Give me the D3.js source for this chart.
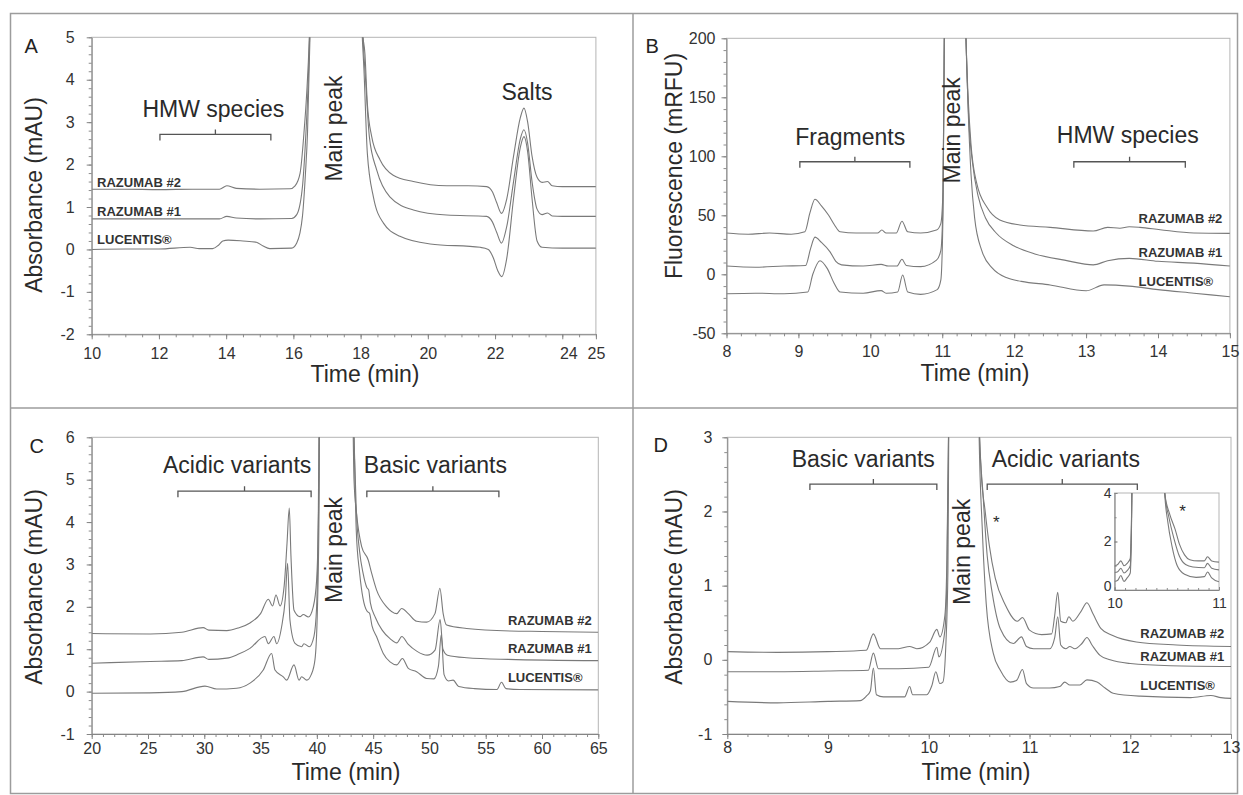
<!DOCTYPE html>
<html lang="en">
<head>
    <meta charset="UTF-8">
    <title>Ranibizumab biosimilar chromatograms</title>
    <script src="https://d3js.org/d3.v7.min.js"></script>
    <style>
        body { margin: 0; background: #fff; }
        svg { display: block; }
        .trace { fill: none; stroke: #7a7a7a; stroke-width: 1.1; }
    </style>
</head>
<body>
<svg id="fig" width="1243" height="795"></svg>
<script>
    const FONT = '"Liberation Sans", Arial, sans-serif';
    const seriesNames = ["RAZUMAB #2", "RAZUMAB #1", "LUCENTIS®"];

    // ---- A: SEC, absorbance (time min, mAU)
    const aTimeTicks = [10, 12, 14, 16, 18, 20, 22, 24, 25];
    const aAbsTicks = [-2, -1, 0, 1, 2, 3, 4, 5];
    const aRaz2 = [[10,1.42],[11,1.42],[12,1.41],[13,1.42],[13.8,1.42],[14.02,1.5],[14.3,1.44],[15,1.42],[15.9,1.43],[16.05,1.5],[16.2,1.8],[16.32,2.8],[16.39,3.6],[16.48,5.2],[16.55,8],
        [17.95,8],[18.05,5.2],[18.13,4.6],[18.2,3.44],[18.33,2.66],[18.58,2.11],[18.97,1.75],[19.57,1.6],[20.56,1.5],[21.2,1.5],[21.75,1.48],[21.92,1.36],[22.05,1.1],[22.19,0.85],[22.35,1.2],[22.55,2.2],[22.75,3.1],[22.86,3.33],[22.97,3.0],[23.1,2.2],[23.25,1.7],[23.4,1.58],[23.56,1.6],[23.7,1.5],[24,1.48],[25,1.48]];
    const aRaz1 = [[10,0.72],[12,0.72],[13.8,0.72],[14.02,0.78],[14.3,0.74],[15,0.72],[15.95,0.73],[16.1,0.82],[16.27,1.48],[16.35,2.4],[16.42,3.52],[16.49,5.2],[16.56,8],
        [17.95,8],[18.06,5.2],[18.16,3.84],[18.26,2.66],[18.48,1.87],[18.87,1.24],[19.57,0.93],[20.56,0.81],[21.75,0.78],[21.92,0.65],[22.05,0.4],[22.19,0.15],[22.35,0.55],[22.55,1.6],[22.75,2.6],[22.86,2.82],[22.97,2.5],[23.1,1.6],[23.25,0.95],[23.4,0.82],[23.56,0.86],[23.7,0.79],[24,0.78],[25,0.78]];
    const aLucentis = [[10,0.0],[11,0.01],[12,0.01],[12.93,0.05],[13.2,0.02],[13.6,0.02],[13.77,0.1],[13.9,0.2],[14.06,0.22],[14.5,0.2],[14.9,0.17],[15.1,0.08],[15.3,0.02],[15.95,0.03],[16.1,0.15],[16.27,0.78],[16.36,1.8],[16.42,2.74],[16.5,5.2],[16.57,8],
        [17.95,8],[18.04,5.2],[18.1,4.23],[18.2,2.27],[18.38,1.24],[18.68,0.62],[19.17,0.31],[20.07,0.13],[21.56,0.05],[21.8,0.0],[21.95,-0.2],[22.08,-0.5],[22.2,-0.64],[22.35,-0.2],[22.55,1.2],[22.75,2.4],[22.86,2.66],[22.97,2.3],[23.1,1.2],[23.25,0.2],[23.4,0.05],[24,0.03],[25,0.03]];

    // ---- B: SEC, fluorescence (time min, mRFU)
    const bTimeTicks = [8, 9, 10, 11, 12, 13, 14, 15];
    const bFluoTicks = [-50, 0, 50, 100, 150, 200];
    const bRaz2 = [[8,35],[8.3,34],[8.6,35],[8.9,34],[9.09,36],[9.16,52],[9.23,63.6],[9.32,58],[9.42,50],[9.5,42],[9.58,36],[9.8,35],[10.1,35],[10.16,37.5],[10.22,35],[10.36,35],[10.44,45],[10.52,36],[10.7,35],[10.92,37.5],[10.98,43],[11.01,70],[11.03,210],[11.04,260],
        [11.31,260],[11.33,200],[11.36,150],[11.4,110],[11.48,77],[11.62,57],[11.8,46],[12.08,41.8],[12.5,39.8],[13.1,36.7],[13.3,39.8],[13.47,39],[13.6,40.3],[13.75,39.8],[14.03,37.8],[14.5,35],[15,34.7]];
    const bRaz1 = [[8,7],[8.4,6],[8.8,7],[9.1,7.5],[9.17,22],[9.23,31.5],[9.32,27],[9.44,19],[9.52,11],[9.6,8],[9.9,7],[10.15,8.4],[10.25,7],[10.37,7],[10.44,12.7],[10.5,7.5],[10.7,6.5],[10.92,12],[10.98,20],[11.01,60],[11.03,210],[11.04,260],
        [11.31,260],[11.33,200],[11.37,130],[11.42,95],[11.5,66],[11.6,48],[11.75,35],[12.0,24],[12.3,17],[12.7,12],[13.1,8],[13.3,11.5],[13.6,13.5],[14.0,11],[14.5,9.5],[15,7]];
    const bLucentis = [[8,-16.5],[8.4,-16],[8.8,-16.5],[9.13,-15],[9.2,0],[9.3,11.5],[9.4,5],[9.5,-8],[9.58,-15],[9.9,-16],[10.15,-13.8],[10.22,-16],[10.38,-15],[10.45,-0.6],[10.52,-15],[10.7,-17],[10.93,-13],[10.98,-5],[11.01,50],[11.03,210],[11.04,260],
        [11.31,260],[11.33,200],[11.36,140],[11.4,85],[11.45,48],[11.55,20],[11.7,5],[11.9,-3],[12.1,-6],[12.5,-9],[13.0,-14],[13.25,-9],[13.6,-10],[14,-13],[14.5,-16],[15,-19]];

    // ---- C: CEX, absorbance
    const cTimeTicks = [20, 25, 30, 35, 40, 45, 50, 55, 60, 65];
    const cAbsTicks = [-1, 0, 1, 2, 3, 4, 5, 6];
    const cRaz2 = [[20,1.37],[25.2,1.36],[28,1.4],[29.9,1.51],[30.4,1.45],[32,1.44],[33,1.5],[34.06,1.62],[35.0,1.84],[35.69,2.18],[36.07,2.02],[36.37,2.28],[36.73,2.02],[37.1,2.5],[37.35,3.5],[37.55,4.33],[37.7,3.2],[37.97,1.92],[38.5,1.77],[38.8,1.82],[39.24,1.76],[39.68,2.0],[39.98,2.63],[40.19,5.0],[40.3,8],
        [43.1,8],[43.3,5.0],[43.53,4.2],[43.98,3.42],[44.57,3.1],[44.87,2.79],[45.3,2.4],[46.2,2.0],[47.09,1.84],[47.53,1.96],[48.12,1.84],[48.86,1.66],[49.75,1.64],[50.49,1.84],[50.93,2.44],[51.22,1.84],[51.53,1.57],[53.3,1.49],[57.15,1.43],[60,1.42],[65,1.4]];
    const cRaz1 = [[20,0.67],[25.2,0.71],[28,0.73],[29.9,0.82],[30.4,0.76],[32,0.79],[33,0.88],[34.06,1.02],[35.39,1.3],[35.69,1.13],[36.19,1.3],[36.43,1.13],[36.87,1.53],[37.2,2.2],[37.4,3.03],[37.61,1.69],[38.06,1.14],[38.65,1.06],[38.85,1.13],[39.32,1.06],[39.74,1.3],[39.98,2.0],[40.13,4.2],[40.25,8],
        [43.1,8],[43.3,6],[43.5,4.3],[43.8,3.3],[44.1,2.8],[44.45,2.45],[44.6,2.4],[44.75,2.1],[45.2,1.75],[45.8,1.45],[46.5,1.25],[47.1,1.15],[47.55,1.3],[48.1,1.12],[48.9,0.95],[49.8,0.86],[50.5,0.98],[50.95,1.7],[51.2,1.0],[51.6,0.86],[53.3,0.8],[57,0.76],[65,0.73]];
    const cLucentis = [[20,-0.04],[25.18,-0.03],[28,0.0],[30.06,0.13],[31.1,0.06],[32.87,0.08],[34.06,0.2],[35.24,0.51],[35.98,0.9],[36.28,0.51],[37.02,0.35],[37.32,0.27],[37.97,0.63],[38.42,0.27],[38.65,0.35],[39.1,0.27],[39.5,0.4],[39.83,0.75],[40.04,1.85],[40.19,4.2],[40.28,8],
        [43.1,8],[43.3,6],[43.5,3.8],[43.8,2.8],[44.1,2.2],[44.45,1.9],[44.68,1.85],[44.9,1.55],[45.3,1.3],[45.9,0.9],[46.5,0.7],[47.09,0.63],[47.6,0.78],[48.12,0.55],[48.86,0.47],[49.75,0.31],[50.4,0.3],[50.8,0.6],[51.05,1.34],[51.3,0.4],[51.7,0.25],[52.1,0.27],[52.6,0.12],[54,0.07],[56,0.05],[56.4,0.22],[56.8,0.07],[58,0.05],[65,0.04]];

    // ---- D: charge variants, absorbance
    const dTimeTicks = [8, 9, 10, 11, 12, 13];
    const dAbsTicks = [-1, 0, 1, 2, 3];
    const dRaz2 = [[8,0.11],[8.5,0.1],[9,0.11],[9.38,0.13],[9.45,0.35],[9.52,0.15],[9.7,0.15],[9.81,0.18],[9.88,0.15],[10.01,0.24],[10.08,0.41],[10.11,0.31],[10.16,0.6],[10.18,1.35],[10.2,3.5],[10.21,5],
        [10.48,5],[10.5,3.2],[10.52,2.54],[10.56,2.0],[10.6,1.55],[10.66,1.1],[10.76,0.74],[10.88,0.52],[10.93,0.57],[11.0,0.4],[11.12,0.34],[11.22,0.35],[11.25,0.6],[11.28,0.91],[11.31,0.52],[11.36,0.5],[11.39,0.58],[11.43,0.52],[11.51,0.65],[11.57,0.77],[11.63,0.62],[11.71,0.42],[11.82,0.33],[12.06,0.24],[12.46,0.2],[13,0.18]];
    const dRaz1 = [[8,-0.16],[8.5,-0.16],[9,-0.15],[9.4,-0.14],[9.45,0.09],[9.5,-0.12],[9.7,-0.12],[10.0,-0.1],[10.08,0.17],[10.1,0.04],[10.16,0.4],[10.18,1.1],[10.2,3.5],[10.21,5],
        [10.48,5],[10.5,3.2],[10.54,2.2],[10.58,1.4],[10.63,0.9],[10.71,0.42],[10.84,0.22],[10.92,0.31],[10.97,0.18],[11.04,0.15],[11.2,0.15],[11.25,0.3],[11.28,0.58],[11.31,0.2],[11.36,0.15],[11.4,0.18],[11.45,0.15],[11.52,0.22],[11.57,0.3],[11.62,0.2],[11.7,0.06],[11.8,0.0],[12.0,-0.05],[12.4,-0.08],[13,-0.09]];
    const dLucentis = [[8,-0.56],[8.5,-0.58],[9,-0.56],[9.32,-0.55],[9.38,-0.49],[9.42,-0.42],[9.45,-0.11],[9.48,-0.47],[9.55,-0.5],[9.76,-0.5],[9.81,-0.36],[9.84,-0.47],[9.98,-0.47],[10.03,-0.35],[10.07,-0.16],[10.11,-0.32],[10.14,-0.3],[10.17,0.22],[10.19,1.2],[10.2,3.5],[10.21,5],
        [10.48,5],[10.5,3.0],[10.53,1.8],[10.57,0.76],[10.64,0.09],[10.71,-0.14],[10.81,-0.3],[10.87,-0.28],[10.93,-0.13],[10.97,-0.32],[11.04,-0.38],[11.2,-0.38],[11.3,-0.36],[11.35,-0.3],[11.4,-0.34],[11.5,-0.34],[11.57,-0.27],[11.67,-0.3],[11.75,-0.38],[11.83,-0.45],[12.1,-0.49],[12.6,-0.51],[12.8,-0.48],[12.9,-0.51],[13,-0.52]];

    // inset of D (zoom around main peak)
    const iTimeTicks = [10, 11];
    const iAbsTicks = [0, 2, 4];
    const iRaz2 = [[10,1.0],[10.03,1.05],[10.06,1.2],[10.09,1.0],[10.12,1.1],[10.15,1.3],[10.16,2.5],[10.17,5],[10.47,5],[10.48,4.0],[10.53,3.1],[10.58,2.5],[10.62,1.9],[10.67,1.45],[10.72,1.25],[10.8,1.2],[10.86,1.2],[10.89,1.37],[10.93,1.2],[11,1.15]];
    const iRaz1 = [[10,0.72],[10.03,0.75],[10.06,0.9],[10.09,0.7],[10.12,0.8],[10.15,1.0],[10.16,2.3],[10.17,5],[10.47,5],[10.48,4.0],[10.52,3.0],[10.57,2.1],[10.62,1.4],[10.68,1.05],[10.75,0.95],[10.86,0.92],[10.89,1.1],[10.93,0.9],[11,0.83]];
    const iLucentis = [[10,0.35],[10.03,0.4],[10.06,0.6],[10.09,0.35],[10.12,0.5],[10.15,0.7],[10.16,2.0],[10.17,5],[10.47,5],[10.48,4.0],[10.51,2.8],[10.55,1.8],[10.6,1.0],[10.67,0.65],[10.78,0.52],[10.86,0.55],[10.89,0.74],[10.93,0.5],[11,0.34]];

    const svg = d3.select("#fig").attr("font-family", FONT);

    // outer frame + dividers between the four panels
    svg.append("rect").attr("x", 10.5).attr("y", 13.5).attr("width", 1227).attr("height", 780)
        .attr("fill", "#fff").attr("stroke", "#9c9c9c").attr("stroke-width", 1.5);
    svg.append("line").attr("x1", 633).attr("x2", 633).attr("y1", 13.5).attr("y2", 793.5)
        .attr("stroke", "#9c9c9c").attr("stroke-width", 1.5);
    svg.append("line").attr("x1", 10.5).attr("x2", 1237.5).attr("y1", 408).attr("y2", 408)
        .attr("stroke", "#9c9c9c").attr("stroke-width", 1.5);

    const panels = [
        { id: "A", letter: [24.5, 53], left: 91.7, right: 595.9, top: 37.3, bottom: 334.3,
          xDomain: [10, 25], yDomain: [-2, 5], xTicks: aTimeTicks, yTicks: aAbsTicks, xMinor: 0.5, yMinor: 0.2,
          xPad: 8, yPad: 12, tick: 5, tickFont: 16,
          yTitle: "Absorbance (mAU)", yTitlePos: [42, 195], xTitlePos: [365, 382],
          traces: [aRaz2, aRaz1, aLucentis],
          names: { x: 10.16, ys: [1.48, 0.79, 0.126] },
          notes: [{ text: "HMW species", x: 13.62, y: 3.13 }, { text: "Salts", x: 22.95, y: 3.52 }],
          brackets: [{ from: 12.03, to: 15.33, y: 2.71 }],
          mainPeak: { x: 17.46, y: 1.6 } },
        { id: "B", letter: [645.5, 53], left: 726.5, right: 1229.9, top: 38.3, bottom: 333.3,
          xDomain: [8, 15], yDomain: [-50, 200], xTicks: bTimeTicks, yTicks: bFluoTicks, xMinor: 0.2, yMinor: 10,
          xPad: 7, yPad: 6, tick: 5, tickFont: 16,
          yTitle: "Fluorescence (mRFU)", yTitlePos: [682, 166], xTitlePos: [975, 381],
          traces: [bRaz2, bRaz1, bLucentis],
          names: { x: 13.73, ys: [43.2, 14.4, -9.9] },
          notes: [{ text: "Fragments", x: 9.72, y: 109.6 }, { text: "HMW species", x: 13.58, y: 111 }],
          brackets: [{ from: 9.02, to: 10.55, y: 95.4 }, { from: 12.83, to: 14.38, y: 95.4 }],
          mainPeak: { x: 11.25, y: 77 } },
        { id: "C", letter: [29.5, 453], left: 91.7, right: 598.3, top: 437.3, bottom: 734,
          xDomain: [20, 65], yDomain: [-1, 6], xTicks: cTimeTicks, yTicks: cAbsTicks, xMinor: 1, yMinor: 0.2,
          xPad: 4, yPad: 12, tick: 5, tickFont: 16,
          yTitle: "Absorbance (mAU)", yTitlePos: [42, 587], xTitlePos: [346, 779.5],
          traces: [cRaz2, cRaz1, cLucentis],
          names: { x: 56.97, ys: [1.57, 0.91, 0.23] },
          notes: [{ text: "Acidic variants", x: 32.92, y: 5.15 }, { text: "Basic variants", x: 50.53, y: 5.15 }],
          brackets: [{ from: 27.66, to: 39.49, y: 4.73 }, { from: 44.44, to: 56.17, y: 4.73 }],
          mainPeak: { x: 42.27, y: 2.09 } },
        { id: "D", letter: [653.5, 452], left: 727.3, right: 1231, top: 437.3, bottom: 734,
          xDomain: [8, 13], yDomain: [-1, 3], xTicks: dTimeTicks, yTicks: dAbsTicks, xMinor: 0.2, yMinor: 0.2,
          xPad: 3, yPad: 10, tick: 5, tickFont: 16,
          yTitle: "Absorbance (mAU)", yTitlePos: [682, 587], xTitlePos: [976, 779.5],
          traces: [dRaz2, dRaz1, dLucentis],
          names: { x: 12.1, ys: [0.29, -0.01, -0.41] },
          notes: [{ text: "Basic variants", x: 9.35, y: 2.6 }, { text: "Acidic variants", x: 11.36, y: 2.6 },
                  { text: "*", x: 10.67, y: 1.78, size: 17 }],
          brackets: [{ from: 8.82, to: 10.08, y: 2.37 }, { from: 10.58, to: 12.07, y: 2.37 }],
          mainPeak: { x: 10.41, y: 0.74 } },
        { id: "Dinset", left: 1114.6, right: 1219, top: 493, bottom: 590,
          xDomain: [10, 11], yDomain: [0, 4], xTicks: iTimeTicks, yTicks: iAbsTicks, xMinor: 0.1, yMinor: 1,
          xPad: 8, yPad: 3, tick: -3, tickFont: 14,
          traces: [iRaz2, iRaz1, iLucentis],
          notes: [{ text: "*", x: 10.65, y: 3.0, size: 17 }] }
    ];

    function steps(dom, step) {
        const n = Math.round((dom[1] - dom[0]) / step);
        return d3.range(n + 1).map(i => +(dom[0] + i * step).toFixed(4));
    }

    function drawPanel(p) {
        const x = d3.scaleLinear().domain(p.xDomain).range([p.left, p.right]);
        const y = d3.scaleLinear().domain(p.yDomain).range([p.bottom, p.top]);
        const g = svg.append("g");

        // plot box (top / right edges stay light)
        g.append("rect")
            .attr("x", p.left).attr("y", p.top)
            .attr("width", p.right - p.left).attr("height", p.bottom - p.top)
            .attr("fill", "#fff").attr("stroke", "#b5b5b5");

        g.append("clipPath").attr("id", "clip-" + p.id)
            .append("rect")
            .attr("x", p.left).attr("y", p.top)
            .attr("width", p.right - p.left).attr("height", p.bottom - p.top);

        // chromatogram traces
        const line = d3.line().x(d => x(d[0])).y(d => y(d[1])).curve(d3.curveMonotoneX);
        g.append("g").attr("clip-path", `url(#clip-${p.id})`)
            .selectAll("path").data(p.traces).join("path")
            .attr("class", "trace").attr("d", line);

        // minor ticks
        const minorSize = p.tick > 0 ? 3 : -2;
        g.append("g").attr("transform", `translate(0,${p.bottom})`)
            .call(d3.axisBottom(x).tickValues(steps(p.xDomain, p.xMinor)).tickSize(minorSize).tickFormat(""))
            .call(a => a.select(".domain").remove())
            .attr("color", "#8c8c8c");
        g.append("g").attr("transform", `translate(${p.left},0)`)
            .call(d3.axisLeft(y).tickValues(steps(p.yDomain, p.yMinor)).tickSize(minorSize).tickFormat(""))
            .call(a => a.select(".domain").remove())
            .attr("color", "#8c8c8c");

        // major axes
        const xa = g.append("g").attr("transform", `translate(0,${p.bottom})`)
            .call(d3.axisBottom(x).tickValues(p.xTicks).tickSize(p.tick).tickSizeOuter(0)
                .tickPadding(p.xPad).tickFormat(d => String(d)));
        const ya = g.append("g").attr("transform", `translate(${p.left},0)`)
            .call(d3.axisLeft(y).tickValues(p.yTicks).tickSize(p.tick).tickSizeOuter(0)
                .tickPadding(p.yPad).tickFormat(d => String(d)));
        [xa, ya].forEach(a => {
            a.attr("color", "#858585").attr("font-family", FONT).attr("font-size", p.tickFont);
            a.selectAll("text").attr("fill", "#333");
        });
        if (p.id === "A") xa.selectAll("text").filter(d => d === 24).attr("dx", 6);
        // inset: lift the "0" so it clears the "10" below it
        if (p.id === "Dinset") ya.selectAll("text").filter(d => d === 0).attr("dy", "0.05em");

        // panel letter and axis titles
        if (p.letter) {
            svg.append("text").attr("x", p.letter[0]).attr("y", p.letter[1])
                .attr("font-size", 20).attr("fill", "#222").text(p.id);
        }
        if (p.yTitle) {
            svg.append("text")
                .attr("transform", `translate(${p.yTitlePos[0]},${p.yTitlePos[1]}) rotate(-90)`)
                .attr("text-anchor", "middle").attr("font-size", 23).attr("fill", "#2a2a2a")
                .text(p.yTitle);
            svg.append("text").attr("x", p.xTitlePos[0]).attr("y", p.xTitlePos[1])
                .attr("text-anchor", "middle").attr("font-size", 23).attr("fill", "#2a2a2a")
                .text("Time (min)");
        }

        // sample names
        if (p.names) {
            g.selectAll(".name").data(seriesNames).join("text")
                .attr("x", x(p.names.x))
                .attr("y", (d, i) => y(p.names.ys[i]))
                .attr("font-size", 13).attr("font-weight", "bold").attr("fill", "#333")
                .text(d => d);
        }

        // region labels and brackets
        (p.notes || []).forEach(n => {
            g.append("text").attr("x", x(n.x)).attr("y", y(n.y))
                .attr("text-anchor", "middle").attr("font-size", n.size || 23).attr("fill", "#2a2a2a")
                .text(n.text);
        });
        (p.brackets || []).forEach(b => {
            const x0 = x(b.from), x1 = x(b.to), yy = y(b.y), xm = (x0 + x1) / 2;
            g.append("path")
                .attr("d", `M${x0},${yy + 6}V${yy}H${x1}V${yy + 6}M${xm},${yy}V${yy - 5}`)
                .attr("fill", "none").attr("stroke", "#555").attr("stroke-width", 1.3);
        });
        if (p.mainPeak) {
            g.append("text")
                .attr("transform", `translate(${x(p.mainPeak.x)},${y(p.mainPeak.y)}) rotate(-90)`)
                .attr("font-size", 23).attr("fill", "#2a2a2a")
                .text("Main peak");
        }
    }

    panels.forEach(drawPanel);
</script>
</body>
</html>
